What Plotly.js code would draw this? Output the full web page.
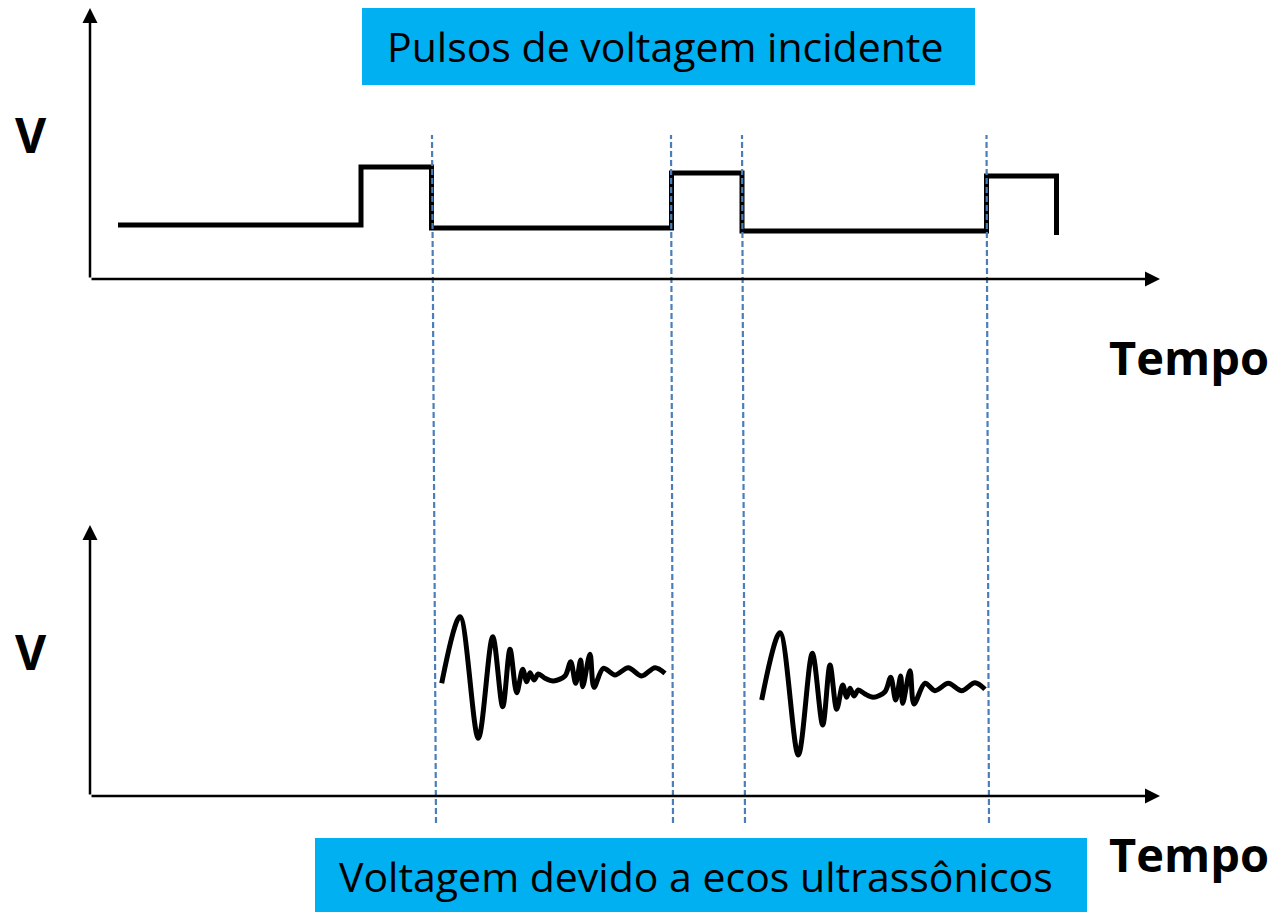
<!DOCTYPE html>
<html>
<head>
<meta charset="utf-8">
<script src="https://cdn.plot.ly/plotly-3.0.1.min.js"></script>
<style>html,body{margin:0;padding:0;background:#fff;}#chart{width:1274px;height:914px;}</style>
</head>
<body>
<div id="chart"></div>
<script>
// ---- Data (time in arbitrary units, voltage in arbitrary units) ----
// Incident voltage pulses (step waveform)
const pulseTime    = [2.8, 27.1, 27.1, 34.15, 34.15, 58.15, 58.15, 65.2, 65.2, 89.65, 89.65, 96.65, 96.65];
const pulseVoltage = [5.4, 5.4, 11.2, 11.2, 5.1, 5.1, 10.6, 10.6, 4.8, 4.8, 10.3, 10.3, 4.4];

// First ultrasonic echo train
const echo1Time = [35.17, 37.0, 38.83, 40.27, 41.27, 42.0, 42.67, 43.27, 43.67, 44.0, 44.4, 44.83, 45.5, 46.33, 47.5, 48.07, 48.57, 49.07, 49.27, 50.0, 50.4, 51.33, 52.5, 53.83, 55.17, 56.5, 57.5];
const echo1Volt = [11.27, 17.93, 5.77, 15.93, 8.93, 14.67, 10.33, 12.67, 11.43, 12.33, 11.6, 12.2, 11.77, 11.5, 12.0, 13.43, 11.27, 13.6, 10.93, 14.17, 10.87, 12.77, 12.1, 12.83, 12.0, 12.83, 12.27];

// Second ultrasonic echo train
const echo2Time = [67.17, 69.0, 70.83, 72.23, 73.27, 74.0, 74.67, 75.27, 75.67, 76.0, 76.4, 76.83, 77.5, 78.33, 79.5, 80.07, 80.57, 81.07, 81.27, 82.0, 82.4, 83.5, 84.5, 85.83, 87.17, 88.5, 89.5];
const echo2Volt = [9.6, 16.33, 4.1, 14.27, 7.1, 13.1, 8.67, 11.1, 9.87, 10.77, 10.0, 10.6, 10.2, 9.87, 10.43, 11.87, 9.6, 12.0, 9.27, 12.53, 9.2, 11.27, 10.53, 11.27, 10.53, 11.33, 10.67];

// Pulse edge times marking the echo windows (top end / bottom end)
const edgeTimesTop    = [34.2, 58.1, 65.2, 89.65];
const edgeTimesBottom = [34.6, 58.3, 65.5, 89.9];

// Axis extents (arrow tips)
const timeAxisEnd   = 107;
const voltAxisEnd   = 27.1;

// Texts
const topTitle    = "Pulsos de voltagem incidente";
const bottomTitle = "Voltagem devido a ecos ultrassônicos";
const yLabel      = "V";
const xLabel      = "Tempo";

// ---- Traces ----
const traces = [
  {x: pulseTime, y: pulseVoltage, xaxis: 'x', yaxis: 'y', mode: 'lines',
   line: {color: '#000', width: 5, shape: 'linear'}, hoverinfo: 'skip'},
  {x: echo1Time, y: echo1Volt, xaxis: 'x', yaxis: 'y2', mode: 'lines',
   line: {color: '#000', width: 5, shape: 'spline', smoothing: 0.9}, hoverinfo: 'skip'},
  {x: echo2Time, y: echo2Volt, xaxis: 'x', yaxis: 'y2', mode: 'lines',
   line: {color: '#000', width: 5, shape: 'spline', smoothing: 0.9}, hoverinfo: 'skip'}
];

const W = 1274, H = 914;
const px = v => v / W;
const py = v => 1 - v / H;

const shapes = [];
// title boxes
shapes.push({type: 'rect', xref: 'paper', yref: 'paper', x0: px(362), x1: px(975), y0: py(85), y1: py(8),
  fillcolor: '#00B0F0', line: {width: 0}, layer: 'below'});
shapes.push({type: 'rect', xref: 'paper', yref: 'paper', x0: px(315), x1: px(1087), y0: py(912), y1: py(838),
  fillcolor: '#00B0F0', line: {width: 0}, layer: 'below'});
// dashed marker lines
edgeTimesTop.forEach((t, i) => {
  shapes.push({type: 'line', xref: 'x', yref: 'paper', x0: edgeTimesBottom[i], x1: t,
    y0: py(823), y1: py(135), line: {color: '#4A7EBB', width: 2.2, dash: '6px,3px'}, layer: 'above'});
});

const arrowStyle = {text: '', showarrow: true, arrowhead: 2, arrowsize: 1.2, arrowwidth: 2.5,
  arrowcolor: '#000', standoff: 0, startstandoff: 0};
const annotations = [
  // top axes
  Object.assign({x: 0, y: voltAxisEnd, ax: 0, ay: 0, xref: 'x', yref: 'y', axref: 'x', ayref: 'y'}, arrowStyle),
  Object.assign({x: timeAxisEnd, y: 0, ax: 0, ay: 0, xref: 'x', yref: 'y', axref: 'x', ayref: 'y'}, arrowStyle),
  // bottom axes
  Object.assign({x: 0, y: voltAxisEnd, ax: 0, ay: 0, xref: 'x', yref: 'y2', axref: 'x', ayref: 'y2'}, arrowStyle),
  Object.assign({x: timeAxisEnd, y: 0, ax: 0, ay: 0, xref: 'x', yref: 'y2', axref: 'x', ayref: 'y2'}, arrowStyle),
  // texts
  {text: topTitle, xref: 'paper', yref: 'paper', x: px(665), y: py(46), showarrow: false,
   xanchor: 'center', yanchor: 'middle', font: {family: 'Open Sans', size: 41, color: '#000'}},
  {text: bottomTitle, xref: 'paper', yref: 'paper', x: px(696), y: py(876), showarrow: false,
   xanchor: 'center', yanchor: 'middle', font: {family: 'Open Sans', size: 41, color: '#000'}},
  {text: '<b>' + yLabel + '</b>', xref: 'paper', yref: 'paper', x: px(31), y: py(134), showarrow: false,
   xanchor: 'center', yanchor: 'middle', font: {family: 'Open Sans', size: 48, color: '#000'}},
  {text: '<b>' + yLabel + '</b>', xref: 'paper', yref: 'paper', x: px(31), y: py(651), showarrow: false,
   xanchor: 'center', yanchor: 'middle', font: {family: 'Open Sans', size: 48, color: '#000'}},
  {text: '<b>' + xLabel + '</b>', xref: 'paper', yref: 'paper', x: px(1189), y: py(357), showarrow: false,
   xanchor: 'center', yanchor: 'middle', font: {family: 'Open Sans', size: 47, color: '#000'}},
  {text: '<b>' + xLabel + '</b>', xref: 'paper', yref: 'paper', x: px(1189), y: py(854), showarrow: false,
   xanchor: 'center', yanchor: 'middle', font: {family: 'Open Sans', size: 47, color: '#000'}}
];

const hidden = {visible: false, showgrid: false, zeroline: false, fixedrange: true};
const layout = {
  width: W, height: H,
  margin: {l: 0, r: 0, t: 0, b: 0, pad: 0},
  paper_bgcolor: '#fff', plot_bgcolor: 'rgba(0,0,0,0)',
  showlegend: false,
  xaxis: Object.assign({domain: [0, 1], range: [-9, 118.4]}, hidden),
  yaxis: Object.assign({domain: [0.5, 1], range: [-17.8, 27.9]}, hidden),
  yaxis2: Object.assign({domain: [0, 0.5], range: [-11.8, 33.9]}, hidden),
  shapes: shapes,
  annotations: annotations
};

Plotly.newPlot('chart', traces, layout, {staticPlot: true, displayModeBar: false});
</script>
</body>
</html>
